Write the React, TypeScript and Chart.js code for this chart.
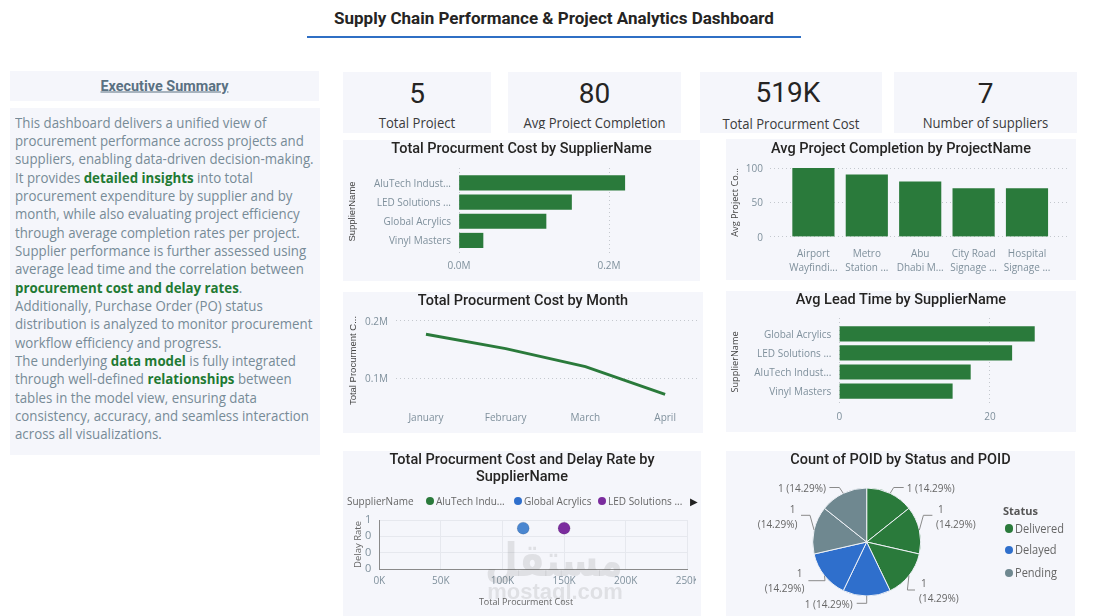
import React, { useEffect, useRef } from "react";
import { Chart, registerables } from "chart.js";

Chart.register(...registerables);

// ---------- data ----------
const kpiValues = ["5", "80", "519K", "7"];
const kpiLabels = ["Total Project", "Avg Project Completion", "Total Procurment Cost", "Number of suppliers"];

const costSuppliers = ["AluTech Indust...", "LED Solutions ...", "Global Acrylics", "Vinyl Masters"];
const costValues = [221000, 150000, 116000, 32000];
const costTicks = [0, 200000];

const projectNames = [["Airport", "Wayfindi..."], ["Metro", "Station ..."], ["Abu", "Dhabi M..."], ["City Road", "Signage ..."], ["Hospital", "Signage ..."]];
const projectCompletion = [100, 90, 80, 70, 70];
const completionTicks = [0, 50, 100];

const months = ["January", "February", "March", "April"];
const monthCost = [176000, 151000, 120000, 72000];
const monthTicks = [100000, 200000];

const leadSuppliers = ["Global Acrylics", "LED Solutions ...", "AluTech Indust...", "Vinyl Masters"];
const leadValues = [25.9, 22.9, 17.4, 15];
const leadTicks = [0, 20];

const globalCost = [116800];
const globalDelay = [0.5];
const ledCost = [150000];
const ledDelay = [0.5];
const scatterXTicks = [0, 50000, 100000, 150000, 200000, 250000];
const scatterYTicks = [0, 0.2, 0.4, 0.6];

const poStatuses = ["Delivered", "Delivered", "Delivered", "Delayed", "Delayed", "Pending", "Pending"];
const poCounts = [1, 1, 1, 1, 1, 1, 1];
const statusNames = ["Delivered", "Delayed", "Pending"];

const summaryLines: (string | [string])[][] = [
  ["This dashboard delivers a unified view of"],
  ["procurement performance across projects and"],
  ["suppliers, enabling data-driven decision-making."],
  ["It provides ", ["detailed insights"], " into total"],
  ["procurement expenditure by supplier and by"],
  ["month, while also evaluating project efficiency"],
  ["through average completion rates per project."],
  ["Supplier performance is further assessed using"],
  ["average lead time and the correlation between"],
  [["procurement cost and delay rates"], "."],
  ["Additionally, Purchase Order (PO) status"],
  ["distribution is analyzed to monitor procurement"],
  ["workflow efficiency and progress."],
  ["The underlying ", ["data model"], " is fully integrated"],
  ["through well-defined ", ["relationships"], " between"],
  ["tables in the model view, ensuring data"],
  ["consistency, accuracy, and seamless interaction"],
  ["across all visualizations."],
];

// ---------- styles ----------
const GREEN = "#2a7a3b";
const BLUE = "#2f6fcc";
const PURPLE = "#7b2c9e";
const SLATE = "#6f8890";
const STATUS_COLORS: Record<string, string> = { Delivered: GREEN, Delayed: BLUE, Pending: SLATE };
const PANEL_BG = "#f5f6fb";
const TICK = "#7f909c";
const BODY_FONT = "'Open Sans', sans-serif";
const HEAD_FONT = "Roboto, sans-serif";
const GRID = "#c4c8ce";

type Rect = { x: number; y: number; w: number; h: number };
type Plot = { l: number; t: number; r: number; b: number };

const PANELS: Record<string, Rect> = {
  cost: { x: 343, y: 140, w: 357, h: 141 },
  completion: { x: 726, y: 139, w: 350, h: 141 },
  month: { x: 343, y: 292, w: 360, h: 141 },
  lead: { x: 726, y: 291, w: 350, h: 141 },
  scatter: { x: 343, y: 451, w: 358, h: 165 },
  pie: { x: 726, y: 451, w: 349, h: 165 },
};

const PANEL_TITLES: { key: string; lines: string[]; cy: number }[] = [
  { key: "cost", lines: ["Total Procurment Cost by SupplierName"], cy: 149 },
  { key: "completion", lines: ["Avg Project Completion by ProjectName"], cy: 149 },
  { key: "month", lines: ["Total Procurment Cost by Month"], cy: 301 },
  { key: "lead", lines: ["Avg Lead Time by SupplierName"], cy: 300 },
  { key: "scatter", lines: ["Total Procurment Cost and Delay Rate by", "SupplierName"], cy: 469 },
  { key: "pie", lines: ["Count of POID by Status and POID"], cy: 460 },
];

const KPI_BOXES = [
  { x: 343, w: 148, vx: 0, vy: 93, ly: 123, clip: 128.5 },
  { x: 508, w: 173, vx: 0, vy: 93, ly: 123, clip: 128.5 },
  { x: 700, w: 182, vx: -3, vy: 92, ly: 124, clip: 132 },
  { x: 894, w: 183, vx: 0, vy: 93, ly: 122.5, clip: 132 },
];

const tickFont = { family: BODY_FONT, size: 10 };

function layoutFor(p: Rect, plot: Plot) {
  return { padding: { left: 0, bottom: 0, top: plot.t - p.y, right: p.x + p.w - plot.r } };
}
function fitW(w: number) {
  return (s: any) => {
    s.width = w;
    s.paddingLeft = s.paddingRight = s.paddingTop = s.paddingBottom = 0;
  };
}
function fitH(h: number) {
  return (s: any) => {
    s.height = h;
    s.paddingLeft = s.paddingRight = s.paddingTop = s.paddingBottom = 0;
  };
}
function setTicks(values: number[]) {
  return (s: any) => {
    s.ticks = values.map((value) => ({ value }));
  };
}
function axisTitle(text: string, center: number, font: any) {
  const lh = font.size * 1.2;
  const pad = center - lh / 2;
  return { display: true, text, color: font.color, font, padding: { top: pad, bottom: pad } };
}
const dotted = { display: true, color: GRID, drawTicks: false, offset: false, lineWidth: 1 };
const noGrid = { display: false, drawTicks: false, offset: false };
const noBorder = { display: false, dash: [1, 3] };
const M = (v: number) => (v / 1e6).toFixed(1) + "M";
const smallArial = { family: "'Liberation Sans', sans-serif", size: 9.5, color: "#444" };
const smallBody = { family: BODY_FONT, size: 9.2, color: "#444" };

function hBar(panel: Rect, plot: Plot, labels: string[], values: number[], opts: any) {
  return {
    type: "bar",
    data: {
      datasets: [{
        data: values.map((v, i) => ({ x: v, y: i })),
        backgroundColor: GREEN,
        barThickness: 14.5,
      }],
    },
    options: {
      indexAxis: "y",
      responsive: false,
      animation: false,
      layout: layoutFor(panel, plot),
      plugins: { legend: { display: false }, title: { display: false }, tooltip: { enabled: false } },
      scales: {
        x: {
          type: "linear", min: 0, max: opts.xMax, offset: false,
          grid: dotted, border: noBorder, afterFit: fitH(panel.y + panel.h - plot.b),
          afterBuildTicks: setTicks(opts.xTicks),
          ticks: { color: TICK, font: tickFont, padding: 5, autoSkip: false, maxRotation: 0, callback: opts.fmt },
        },
        y: {
          type: "linear", reverse: true, min: opts.yMin, max: opts.yMax, offset: false,
          grid: noGrid, border: noBorder, afterFit: fitW(plot.l - panel.x),
          afterBuildTicks: setTicks(labels.map((_, i) => i)),
          title: axisTitle("SupplierName", opts.titleX, opts.titleFont),
          ticks: { color: TICK, font: tickFont, padding: 8, labelOffset: 1.2, autoSkip: false, callback: (v: number) => labels[v] ?? "" },
        },
      },
    },
  };
}

const PIE_LAYOUT = [
  { elbow: [27, -54.5], end: [37, -54.5], text: [40, -52.7], wrap: false },
  { elbow: [56.7, -26.7], end: [65.7, -26.7], text: [69.3, -24.5], wrap: true },
  { elbow: [40.7, 48], end: [48.3, 48], text: [52.3, 50], wrap: true },
  { elbow: [0, 61.3], end: [-10, 61.3], text: [-14, 63], wrap: false },
  { elbow: [-41.7, 38.7], end: [-58.3, 38.7], text: [-62.3, 40], wrap: true },
  { elbow: [-56.7, -26.7], end: [-65.7, -26.7], text: [-69.3, -24.5], wrap: true },
  { elbow: [-27.3, -54.5], end: [-37.3, -54.5], text: [-40.7, -52.7], wrap: false },
];

const pieLabels = {
  id: "pieLabels",
  afterDatasetsDraw(chart: any) {
    const { ctx } = chart;
    const arcs = chart.getDatasetMeta(0).data;
    const total = poCounts.reduce((a, b) => a + b, 0);
    ctx.save();
    ctx.font = `10px ${BODY_FONT}`;
    ctx.fillStyle = "#666";
    ctx.strokeStyle = "#8a8a8a";
    ctx.lineWidth = 1;
    ctx.textBaseline = "middle";
    arcs.forEach((arc: any, i: number) => {
      const cfg = PIE_LAYOUT[i];
      const mid = (arc.startAngle + arc.endAngle) / 2;
      const sx = arc.x + Math.cos(mid) * arc.outerRadius;
      const sy = arc.y + Math.sin(mid) * arc.outerRadius;
      ctx.beginPath();
      ctx.moveTo(sx, sy);
      ctx.lineTo(arc.x + cfg.elbow[0], arc.y + cfg.elbow[1]);
      ctx.lineTo(arc.x + cfg.end[0], arc.y + cfg.end[1]);
      ctx.stroke();
      const right = cfg.text[0] > 0;
      ctx.textAlign = right ? "left" : "right";
      const tx = arc.x + cfg.text[0];
      const ty = arc.y + cfg.text[1];
      const count = poCounts[i];
      const pct = `(${((count / total) * 100).toFixed(2)}%)`;
      if (cfg.wrap) {
        ctx.fillText(String(count), tx + (right ? 2 : -2), ty - 7.5);
        ctx.fillText(pct, tx, ty + 7.5);
      } else {
        ctx.fillText(`${count} ${pct}`, tx, ty);
      }
    });
    ctx.restore();
  },
};

const CONFIGS: Record<string, () => any> = {
  cost: () => hBar(PANELS.cost, { l: 459, t: 168, r: 640, b: 255 }, costSuppliers, costValues, {
    xMax: 241300, xTicks: costTicks, fmt: M, yMin: -0.78, yMax: 3.76, titleX: 9, titleFont: smallArial,
  }),
  lead: () => hBar(PANELS.lead, { l: 839.3, t: 318, r: 1060, b: 406 }, leadSuppliers, leadValues, {
    xMax: 29.3, xTicks: leadTicks, fmt: (v: number) => String(v), yMin: -0.83, yMax: 3.78, titleX: 9, titleFont: smallBody,
  }),
  completion: () => {
    const panel = PANELS.completion;
    const plot = { l: 770, t: 168, r: 1068, b: 236.7 };
    return {
      type: "bar",
      data: { datasets: [{ data: projectCompletion.map((v, i) => ({ x: i, y: v })), backgroundColor: GREEN, barThickness: 41.5 }] },
      options: {
        responsive: false, animation: false, layout: layoutFor(panel, plot),
        plugins: { legend: { display: false }, tooltip: { enabled: false } },
        scales: {
          x: {
            type: "linear", min: -0.813, max: 4.768, offset: false,
            grid: noGrid, border: noBorder, afterFit: fitH(panel.y + panel.h - plot.b),
            afterBuildTicks: setTicks(projectNames.map((_, i) => i)),
            ticks: { color: TICK, font: { ...tickFont, lineHeight: 1.4 }, padding: 10, autoSkip: false, maxRotation: 0, callback: (v: number) => projectNames[v] ?? "" },
          },
          y: {
            min: 0, max: 100, grid: dotted, border: noBorder, afterFit: fitW(plot.l - panel.x),
            afterBuildTicks: setTicks(completionTicks),
            title: axisTitle("Avg Project Co...", 9, smallBody),
            ticks: { color: TICK, font: tickFont, padding: 7, labelOffset: 1, autoSkip: false },
          },
        },
      },
    };
  },
  month: () => {
    const panel = PANELS.month;
    const plot = { l: 396, t: 318, r: 699, b: 403 };
    return {
      type: "line",
      data: { datasets: [{ data: monthCost.map((v, i) => ({ x: i, y: v })), borderColor: GREEN, borderWidth: 3, pointRadius: 0, tension: 0, fill: false }] },
      options: {
        responsive: false, animation: false, layout: layoutFor(panel, plot),
        plugins: { legend: { display: false }, tooltip: { enabled: false } },
        scales: {
          x: {
            type: "linear", min: -0.376, max: 3.425, offset: false,
            grid: noGrid, border: noBorder, afterFit: fitH(panel.y + panel.h - plot.b),
            afterBuildTicks: setTicks(months.map((_, i) => i)),
            ticks: { color: TICK, font: tickFont, padding: 9, autoSkip: false, maxRotation: 0, callback: (v: number) => months[v] ?? "" },
          },
          y: {
            min: 57000, max: 204000, grid: dotted, border: noBorder, afterFit: fitW(plot.l - panel.x),
            afterBuildTicks: setTicks(monthTicks),
            title: axisTitle("Total Procurment C...", 10, smallArial),
            ticks: { color: TICK, font: tickFont, padding: 8, labelOffset: 1.5, autoSkip: false, callback: M },
          },
        },
      },
    };
  },
  scatter: () => {
    const panel = { ...PANELS.scatter, w: 353 };
    const plot = { l: 379.3, t: 520, r: 687.3, b: 569 };
    const solid = { display: true, color: "#e6e8ee", drawTicks: false };
    const axisLine = { display: true, color: "#8a8a8a", width: 1 };
    return {
      type: "scatter",
      data: {
        datasets: [
          { label: "Global Acrylics", data: globalCost.map((x, i) => ({ x, y: globalDelay[i] })), backgroundColor: "#4a86d0", pointRadius: 6 },
          { label: "LED Solutions ...", data: ledCost.map((x, i) => ({ x, y: ledDelay[i] })), backgroundColor: PURPLE, pointRadius: 6 },
        ],
      },
      options: {
        responsive: false, animation: false, layout: layoutFor(panel, plot),
        plugins: { legend: { display: false }, tooltip: { enabled: false } },
        scales: {
          x: {
            type: "linear", min: 0, max: 250000, grid: solid, border: axisLine, afterFit: fitH(panel.y + panel.h - plot.b),
            afterBuildTicks: setTicks(scatterXTicks),
            ticks: { color: TICK, font: tickFont, padding: 6, autoSkip: false, maxRotation: 0, callback: (v: number) => v / 1000 + "K" },
          },
          y: {
            type: "linear", min: 0, max: 0.6, grid: solid, border: axisLine, afterFit: fitW(plot.l - panel.x),
            afterBuildTicks: setTicks(scatterYTicks),
            title: axisTitle("Delay Rate", 15, { family: BODY_FONT, size: 9.5, color: "#666" }),
            ticks: { color: TICK, font: { ...tickFont, size: 11 }, padding: 8, autoSkip: false, callback: (v: number) => v.toFixed(0) },
          },
        },
      },
    };
  },
  pie: () => {
    const panel = PANELS.pie;
    const cx = 866.7, cy = 542, r = 54.5;
    return {
      type: "pie",
      data: {
        labels: poStatuses,
        datasets: [{ data: poCounts, backgroundColor: poStatuses.map((s) => STATUS_COLORS[s]), borderColor: "#eef1f6", borderWidth: 1 }],
      },
      options: {
        responsive: false, animation: false,
        layout: { padding: { left: cx - r - panel.x, right: panel.x + panel.w - cx - r, top: cy - r - panel.y, bottom: panel.y + panel.h - cy - r } },
        plugins: { legend: { display: false }, tooltip: { enabled: false } },
      },
      plugins: [pieLabels],
    };
  },
};

const abs = (x: number, y: number, w: number, h: number, extra: any = {}) => ({ position: "absolute" as const, left: x, top: y, width: w, height: h, ...extra });

function Dot({ x, y, c, r = 4 }: { x: number; y: number; c: string; r?: number }) {
  return <div style={abs(x - r, y - r, r * 2, r * 2, { borderRadius: "50%", background: c })} />;
}

function Text({ x, y, children, style }: { x: number; y: number; children: any; style?: any }) {
  return (
    <div style={{ position: "absolute", left: x, top: y, transform: "translateY(-50%)", whiteSpace: "nowrap", ...style }}>{children}</div>
  );
}

export default function App() {
  const refs = useRef<Record<string, HTMLCanvasElement | null>>({});
  useEffect(() => {
    const charts = Object.keys(CONFIGS).map((k) => new Chart(refs.current[k] as HTMLCanvasElement, CONFIGS[k]()));
    return () => charts.forEach((c) => c.destroy());
  }, []);

  return (
    <div style={{ position: "fixed", left: 0, top: 0, width: 1109, height: 616, overflow: "hidden", background: "#fff", fontFamily: BODY_FONT }}>
      <div style={{ position: "absolute", left: 0, width: 1108, top: 7, height: 22, lineHeight: "22px", textAlign: "center", fontFamily: HEAD_FONT, fontWeight: 700, fontSize: 17, color: "#252423" }}>
        Supply Chain Performance &amp; Project Analytics Dashboard
      </div>
      <div style={abs(307, 36, 494, 2, { background: "#2f6fc4" })} />

      <div style={abs(10, 71, 309, 30, { background: PANEL_BG })} />
      <Text x={10} y={85.5} style={{ width: 309, textAlign: "center", fontFamily: HEAD_FONT, fontWeight: 700, fontSize: 14.4, color: "#5a7182", textDecoration: "underline" }}>
        Executive Summary
      </Text>
      <div style={abs(10, 108, 310, 347, { background: PANEL_BG })} />
      <div style={{ position: "absolute", left: 14.5, top: 113.6, color: "#778b97", fontSize: 14.5, lineHeight: "18.35px", whiteSpace: "nowrap", transform: "scaleX(0.915)", transformOrigin: "0 0" }}>
        {summaryLines.map((line, i) => (
          <div key={i}>
            {line.map((seg, j) =>
              typeof seg === "string" ? <span key={j}>{seg}</span> : <b key={j} style={{ color: "#1f7a33" }}>{seg[0]}</b>
            )}
          </div>
        ))}
      </div>

      {KPI_BOXES.map((k, i) => (
        <React.Fragment key={i}>
          <div style={abs(k.x, 72, k.w, 61, { background: PANEL_BG })} />
          <Text x={k.x + k.vx} y={k.vy} style={{ width: k.w, textAlign: "center", fontFamily: HEAD_FONT, fontSize: 28, color: "#252423" }}>{kpiValues[i]}</Text>
          <div style={{ position: "absolute", left: k.x, width: k.w, top: k.ly - 12, height: k.clip - (k.ly - 12), overflow: "hidden", textAlign: "center", fontSize: 14, lineHeight: "24px", color: "#3b3b3b", whiteSpace: "nowrap", transform: "scaleX(0.935)" }}>
            {kpiLabels[i]}
          </div>
        </React.Fragment>
      ))}

      {Object.keys(PANELS).map((k) => {
        const p = PANELS[k];
        return (
          <React.Fragment key={k}>
            <div style={abs(p.x, p.y, p.w, p.h, { background: PANEL_BG })} />
            <canvas
              ref={(el) => { refs.current[k] = el; }}
              width={k === "scatter" ? 353 : p.w}
              height={p.h}
              style={{ position: "absolute", left: p.x, top: p.y, width: k === "scatter" ? 353 : p.w, height: p.h }}
            />
          </React.Fragment>
        );
      })}

      {PANEL_TITLES.map((t) => {
        const p = PANELS[t.key];
        return (
          <Text key={t.key} x={p.x} y={t.cy} style={{ width: p.w, textAlign: "center", fontFamily: HEAD_FONT, fontWeight: 500, fontSize: 14.5, lineHeight: "16.6px", color: "#252423" }}>
            {t.lines.map((l, i) => <div key={i}>{l}</div>)}
          </Text>
        );
      })}

      {/* scatter legend and x-axis title */}
      <Text x={347} y={501} style={{ fontSize: 10, color: "#666" }}>SupplierName</Text>
      <Dot x={430} y={501} c={GREEN} />
      <Text x={436} y={501} style={{ fontSize: 10, color: "#666" }}>AluTech Indu...</Text>
      <Dot x={517.7} y={501} c={BLUE} />
      <Text x={524} y={501} style={{ fontSize: 10, color: "#666" }}>Global Acrylics</Text>
      <Dot x={602} y={501} c={PURPLE} />
      <Text x={608} y={501} style={{ fontSize: 10, color: "#666" }}>LED Solutions ...</Text>
      <Text x={690} y={501} style={{ fontSize: 10, color: "#222" }}>▶</Text>
      <Text x={426} y={601} style={{ width: 200, textAlign: "center", fontSize: 9, color: "#666" }}>Total Procurment Cost</Text>

      {/* pie legend */}
      <Text x={1003} y={510} style={{ fontWeight: 700, fontSize: 11, color: "#555" }}>Status</Text>
      {statusNames.map((s, i) => (
        <React.Fragment key={s}>
          <Dot x={1008.7} y={[528.6, 550, 573][i]} c={STATUS_COLORS[s]} r={4.2} />
          <Text x={1015} y={[527.8, 549.2, 572.2][i]} style={{ fontSize: 12, color: "#666", transform: "translateY(-50%) scaleX(0.92)", transformOrigin: "0 50%" }}>{s}</Text>
        </React.Fragment>
      ))}

      {/* watermark */}
      <Text x={454} y={560} style={{ width: 200, textAlign: "center", fontFamily: "'DejaVu Sans', sans-serif", fontWeight: 700, fontSize: 46, color: "rgba(90,90,90,0.14)", pointerEvents: "none", transform: "translateY(-50%) scaleX(0.82)" }}>مستقل</Text>
      <Text x={462} y={592} style={{ width: 186, textAlign: "center", fontFamily: "'Liberation Sans', sans-serif", fontWeight: 700, fontSize: 22, color: "rgba(90,90,90,0.14)", pointerEvents: "none" }}>mostaql.com</Text>
    </div>
  );
}
